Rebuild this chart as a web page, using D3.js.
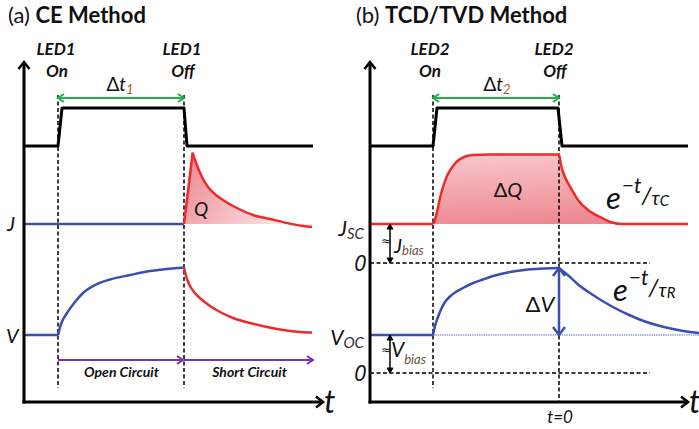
<!DOCTYPE html>
<html>
<head>
<meta charset="utf-8">
<script src="https://cdn.jsdelivr.net/npm/d3@7/dist/d3.min.js"></script>
<style>
  html, body { margin: 0; padding: 0; background: #fff; }
  svg { display: block; }
  text { font-family: Lato, "Open Sans", "DejaVu Sans", sans-serif; fill: #111; }
</style>
</head>
<body>
<svg id="fig" width="699" height="429"></svg>
<script>
// Time units: panel (a) starts at 0; panel (b) is referenced to LED2 switching off (t = 0).
// Both panels share one arbitrary vertical signal unit.

// ---------- Panel (a): CE method ----------
const ledEventsA = [34, 160];                       // LED1 on, LED1 off
const ledWaveA   = [[0,256],[34,256],[38,294],[160,294],[163,256],[289,256]];
const jDarkA     = [[0,178],[160,178]];
const jSpikeA    = [[160,178],[168.7,249.3]];
const jDecayA    = [[168.7,249.3],[171,242],[174,234],[178,225],[184,215],[192,207],[202,200],[213,194],[229,187],[246,183],[263,179],[279,176],[288,175]];
const vFlatA     = [[0,67],[34,67]];
const vRiseA     = [[34,67],[37,78],[43,89],[51,100],[59,109],[71,117],[86,122.5],[106,127],[126,131],[143,133],[160,134.5]];
const vDecayA    = [[160,134.5],[162,126],[165,118],[170,110],[177,103],[186,96],[196,90],[209,84],[226,79],[243,75],[259,72],[276,70],[288,69.5]];
const jLevelA    = 178;
const phaseLabelsA = ["Open Circuit", "Short Circuit"];
const phaseEndsA   = [[34,159],[160,289]];

// ---------- Panel (b): TCD/TVD method ----------
const ledEventsB = [-126, 0];                       // LED2 on, LED2 off (t = 0)
const ledWaveB   = [[-189,256],[-126,256],[-122,294],[-1,294],[3,256],[129,256]];
const jFlatB     = [[-189,178],[-126,178]];
const jPulseB    = [[-126,178],[-124,182],[-122,190],[-119,204],[-116,215],[-112,226],[-106,236],[-101,241.5],[-96,244.5],[-86,247],[-69,247.5],[0,247.5],
                    [2,237],[6,225],[13,212],[19,202],[29,192],[43,184],[53,179.5],[63,178],[129,178]];
const vFlatB     = [[-189,67],[-126,67]];
const vRiseB     = [[-126,67],[-124,76],[-121,85],[-118,92.5],[-114,100],[-109,105.5],[-104,109.5],[-97,113.5],[-87,118.5],[-76,122.5],[-64,126.5],[-49,130],[-31,132.5],[-14,133.6],[0,134]];
const vDecayB    = [[0,134],[4,130.8],[11,125],[19,117.5],[28,111],[41,102.5],[53,95.5],[69,87.5],[86,80.5],[101,76],[119,72],[140,69]];
const jscB       = 178;
const vocB       = 67;
const zeroLevelsB = [139, 29];                      // J = 0 and V = 0 references
const zeroLabelsB = ["0", "0"];

const RED = "#ee2a2a", BLUE = "#3a4fae", GREEN = "#22b14c", PURPLE = "#7a35a8", SUBC = "#6a5040";

const svg = d3.select("#fig");
const defs = svg.append("defs");

const y  = d3.scaleLinear().domain([0, 340]).range([402, 62]);
const xA = d3.scaleLinear().domain([0, 300]).range([24, 324]);
const xB = d3.scaleLinear().domain([-189, 140]).range([370, 699]);

const lineOf = (x, curve) => d3.line().x(d => x(d[0])).y(d => y(d[1])).curve(curve || d3.curveLinear);

// gradients for the charge areas
const gA = defs.append("linearGradient").attr("id", "fillQ").attr("x1", 0).attr("y1", 0).attr("x2", 1).attr("y2", 0.4);
gA.append("stop").attr("offset", 0).attr("stop-color", "#ec858e");
gA.append("stop").attr("offset", 1).attr("stop-color", "#fde6e8");
const gB = defs.append("linearGradient").attr("id", "fillDQ").attr("x1", 0).attr("y1", 0).attr("x2", 0.15).attr("y2", 1);
gB.append("stop").attr("offset", 0).attr("stop-color", "#f8c8cc");
gB.append("stop").attr("offset", 1).attr("stop-color", "#ee8a93");

function head(g, px, py, ang, len, half, color, w, filled) {
  const c = Math.cos(ang), s = Math.sin(ang);
  const bx = px - c * len, by = py - s * len;
  const p1 = [bx - s * half, by + c * half], p2 = [bx + s * half, by - c * half];
  g.append("path")
    .attr("d", `M${p1}L${px},${py}L${p2}` + (filled ? "Z" : ""))
    .attr("fill", filled ? color : "none")
    .attr("stroke", color).attr("stroke-width", w)
    .attr("stroke-linejoin", "miter").attr("stroke-linecap", "butt");
}

function seg(g, x1, y1, x2, y2, color, w, dash) {
  const l = g.append("line").attr("x1", x1).attr("y1", y1).attr("x2", x2).attr("y2", y2)
    .attr("stroke", color).attr("stroke-width", w);
  if (dash) l.attr("stroke-dasharray", dash);
  return l;
}

function label(g, x, yy, size, parts, anchor) {
  const t = g.append("text").attr("x", x).attr("y", yy).attr("font-size", size)
    .attr("text-anchor", anchor || "start");
  for (const p of parts) {
    const s = t.append("tspan").text(p.t);
    if (p.size) s.attr("font-size", p.size);
    if (p.italic) s.attr("font-style", "italic");
    if (p.bold) s.attr("font-weight", "bold");
    if (p.dy) s.attr("dy", p.dy);
    if (p.dx) s.attr("dx", p.dx);
    if (p.fill) s.attr("fill", p.fill);
    if (p.family) s.attr("font-family", p.family);
  }
  return t;
}

function axes(g, x, x0, xEnd) {
  const X0 = x(x0), Y0 = y(0);
  seg(g, X0, Y0 + 1.5, X0, y(338), "#000", 3);
  head(g, X0, y(340), -Math.PI / 2, 7, 5.5, "#000", 2.6, false);
  seg(g, X0 - 1.5, Y0, x(xEnd) - 1, Y0, "#000", 3);
  head(g, x(xEnd), Y0, 0, 7, 5.5, "#000", 2.6, false);
}

// =================== Panel (a) ===================
const pa = svg.append("g");
label(pa, 8, 23, 22, [{ t: "(a) " }, { t: "CE Method", bold: true }]);

// charge area Q under the short-circuit current transient
const decayPathA = lineOf(xA, d3.curveMonotoneX)(jDecayA);
const qPath = `M${xA(jSpikeA[0][0])},${y(jLevelA)}L${xA(jSpikeA[1][0])},${y(jSpikeA[1][1])}` +
  decayPathA.replace(/^M/, "L") + `L${xA(jDecayA[jDecayA.length - 1][0])},${y(jLevelA)}Z`;
pa.append("path").attr("d", qPath).attr("fill", "url(#fillQ)");

// event markers
ledEventsA.forEach(t => seg(pa, xA(t), y(307), xA(t), y(14), "#000", 1.5, "4,2.5"));

// LED1 drive
pa.append("path").attr("d", lineOf(xA)(ledWaveA)).attr("fill", "none").attr("stroke", "#000")
  .attr("stroke-width", 3).attr("stroke-linejoin", "round");

// current trace
pa.append("path").attr("d", lineOf(xA)(jDarkA)).attr("fill", "none").attr("stroke", BLUE).attr("stroke-width", 2.5);
pa.append("path").attr("d", lineOf(xA)(jSpikeA)).attr("fill", "none").attr("stroke", RED).attr("stroke-width", 2.5);
pa.append("path").attr("d", decayPathA).attr("fill", "none").attr("stroke", RED).attr("stroke-width", 2.5);

// voltage trace
pa.append("path").attr("d", lineOf(xA)(vFlatA)).attr("fill", "none").attr("stroke", BLUE).attr("stroke-width", 2.5);
pa.append("path").attr("d", lineOf(xA, d3.curveMonotoneX)(vRiseA)).attr("fill", "none").attr("stroke", BLUE).attr("stroke-width", 2.5);
pa.append("path").attr("d", lineOf(xA, d3.curveMonotoneX)(vDecayA)).attr("fill", "none").attr("stroke", RED).attr("stroke-width", 2.5);

// Δt1 arrow
{
  const a = xA(ledEventsA[0]), b = xA(ledEventsA[1]), yy = y(304);
  seg(pa, a + 1, yy, b - 1, yy, GREEN, 2);
  head(pa, a, yy, Math.PI, 6, 4, GREEN, 2, false);
  head(pa, b, yy, 0, 6, 4, GREEN, 2, false);
  label(pa, (a + b) / 2 - 1, 91, 19, [{ t: "Δ" }, { t: "t", italic: true }, { t: "1", size: 13, dy: 3, fill: "#a0602a", italic: true }], "middle");
}

// open / short circuit phases
phaseEndsA.forEach((e, i) => {
  const a = xA(e[0]), b = xA(e[1]), yy = y(42);
  seg(pa, a, yy, b - 1, yy, PURPLE, 2);
  head(pa, b, yy, 0, 6, 4, PURPLE, 2, false);
  label(pa, (a + b) / 2 + 1, 377, 14, [{ t: phaseLabelsA[i], bold: true, italic: true }], "middle");
});

axes(pa, xA, 0, 299);

label(pa, xA(ledEventsA[0]) - 2, 55, 17, [{ t: "LED1", bold: true, italic: true }], "middle");
label(pa, xA(ledEventsA[0]) - 1, 77, 17, [{ t: "On", bold: true, italic: true }], "middle");
label(pa, xA(ledEventsA[1]) - 2, 55, 17, [{ t: "LED1", bold: true, italic: true }], "middle");
label(pa, xA(ledEventsA[1]) - 1, 77, 17, [{ t: "Off", bold: true, italic: true }], "middle");
label(pa, 7, 231, 20, [{ t: "J", italic: true }]);
label(pa, 6, 343, 20, [{ t: "V", italic: true }]);
label(pa, 194, 216, 19, [{ t: "Q", italic: true }]);
label(pa, 324, 413, 32, [{ t: "t", italic: true }]);

// =================== Panel (b) ===================
const pb = svg.append("g");
label(pb, 356, 23, 22, [{ t: "(b) " }, { t: "TCD/TVD Method", bold: true }]);

// ΔQ area
pb.append("path")
  .attr("d", d3.area().x(d => xB(d[0])).y0(y(jscB)).y1(d => y(d[1])).curve(d3.curveMonotoneX)(jPulseB))
  .attr("fill", "url(#fillDQ)");

// zero references
zeroLevelsB.forEach(v => seg(pb, xB(-189), y(v), xB(91), y(v), "#000", 1.5, "4,2.5"));

// event markers
seg(pb, xB(ledEventsB[0]), y(307), xB(ledEventsB[0]), y(14), "#000", 1.5, "4,2.5");
seg(pb, xB(ledEventsB[1]), y(307), xB(ledEventsB[1]), y(0), "#000", 1.5, "4,2.5");

// LED2 drive
pb.append("path").attr("d", lineOf(xB)(ledWaveB)).attr("fill", "none").attr("stroke", "#000")
  .attr("stroke-width", 3).attr("stroke-linejoin", "round");

// transient current
pb.append("path").attr("d", lineOf(xB)(jFlatB)).attr("fill", "none").attr("stroke", RED).attr("stroke-width", 2.5);
pb.append("path").attr("d", lineOf(xB, d3.curveMonotoneX)(jPulseB)).attr("fill", "none").attr("stroke", RED).attr("stroke-width", 2.5);

// transient voltage
seg(pb, xB(ledEventsB[0]), y(vocB), xB(140), y(vocB), "#5b6fc4", 1, "1.5,0.8");
pb.append("path").attr("d", lineOf(xB)(vFlatB)).attr("fill", "none").attr("stroke", BLUE).attr("stroke-width", 2.5);
pb.append("path").attr("d", lineOf(xB, d3.curveMonotoneX)(vRiseB)).attr("fill", "none").attr("stroke", BLUE).attr("stroke-width", 2.5);
pb.append("path").attr("d", lineOf(xB, d3.curveMonotoneX)(vDecayB)).attr("fill", "none").attr("stroke", BLUE).attr("stroke-width", 2.5);

// ΔV arrow
{
  const xx = xB(0), top = y(vRiseB[vRiseB.length - 1][1]), bot = y(vocB);
  seg(pb, xx, top + 1, xx, bot - 1, BLUE, 2.5);
  head(pb, xx, top, -Math.PI / 2, 8, 6, BLUE, 2.5, false);
  head(pb, xx, bot, Math.PI / 2, 8, 6, BLUE, 2.5, false);
}

// bias arrows
[[jscB, zeroLevelsB[0]], [vocB, zeroLevelsB[1]]].forEach(([a, b]) => {
  const xx = xB(-169);
  seg(pb, xx, y(a) + 4, xx, y(b) - 4, "#000", 1.5);
  head(pb, xx, y(a), -Math.PI / 2, 5, 3, "#000", 1, true);
  head(pb, xx, y(b), Math.PI / 2, 5, 3, "#000", 1, true);
});

// Δt2 arrow
{
  const a = xB(ledEventsB[0]), b = xB(ledEventsB[1]), yy = y(304);
  seg(pb, a + 1, yy, b - 1, yy, GREEN, 2);
  head(pb, a, yy, Math.PI, 6, 4, GREEN, 2, false);
  head(pb, b, yy, 0, 6, 4, GREEN, 2, false);
  label(pb, (a + b) / 2 + 1, 91, 19, [{ t: "Δ" }, { t: "t", italic: true }, { t: "2", size: 13, dy: 3, fill: "#a0602a", italic: true }], "middle");
}

axes(pb, xB, -189, 129);

label(pb, xB(ledEventsB[0]) - 3, 55, 17, [{ t: "LED2", bold: true, italic: true }], "middle");
label(pb, xB(ledEventsB[0]) - 3, 77, 17, [{ t: "On", bold: true, italic: true }], "middle");
label(pb, xB(ledEventsB[1]) - 5, 55, 17, [{ t: "LED2", bold: true, italic: true }], "middle");
label(pb, xB(ledEventsB[1]) - 4, 77, 17, [{ t: "Off", bold: true, italic: true }], "middle");

label(pb, 364, 236, 21, [{ t: "J", italic: true }, { t: "SC", size: 15, italic: true, dy: 3, fill: "#333" }], "end");
label(pb, 364, 345, 21, [{ t: "V", italic: true }, { t: "OC", size: 15, italic: true, dy: 3, fill: "#333" }], "end");
zeroLevelsB.forEach((v, i) => label(pb, 366, y(v) + 8, 22, [{ t: zeroLabelsB[i], italic: true, family: "'Open Sans', Lato, sans-serif" }], "end"));

label(pb, 381, 245, 12, [{ t: "≈", family: "'DejaVu Sans', sans-serif" }]);
label(pb, 394, 253, 20, [{ t: "J", italic: true }, { t: "bias", size: 13, italic: true, dy: 2, fill: SUBC }]);
label(pb, 381, 354, 12, [{ t: "≈", family: "'DejaVu Sans', sans-serif" }]);
label(pb, 391, 357, 21, [{ t: "V", italic: true }, { t: "bias", size: 13, italic: true, dy: 7, fill: SUBC }]);

label(pb, 508, 197, 20, [{ t: "Δ" }, { t: "Q", italic: true }], "middle");
label(pb, 540, 312, 22, [{ t: "Δ" }, { t: "V", italic: true }], "middle");

label(pb, 606, 209, 31, [{ t: "e", italic: true },
  { t: "−t", size: 21, italic: true, dy: -16, dx: 1 },
  { t: "/", size: 24, italic: true, dy: 11 },
  { t: "τ", size: 19, italic: true, dy: 1 },
  { t: "C", size: 15, italic: true, dy: 1 }]);
label(pb, 613, 301, 31, [{ t: "e", italic: true },
  { t: "−t", size: 21, italic: true, dy: -16, dx: 1 },
  { t: "/", size: 24, italic: true, dy: 11 },
  { t: "τ", size: 19, italic: true, dy: 1 },
  { t: "R", size: 15, italic: true, dy: 1 }]);

label(pb, xB(0) + 1, 423, 17, [{ t: "t=0", italic: true }], "middle");
label(pb, 689, 413, 32, [{ t: "t", italic: true }]);
</script>
</body>
</html>
